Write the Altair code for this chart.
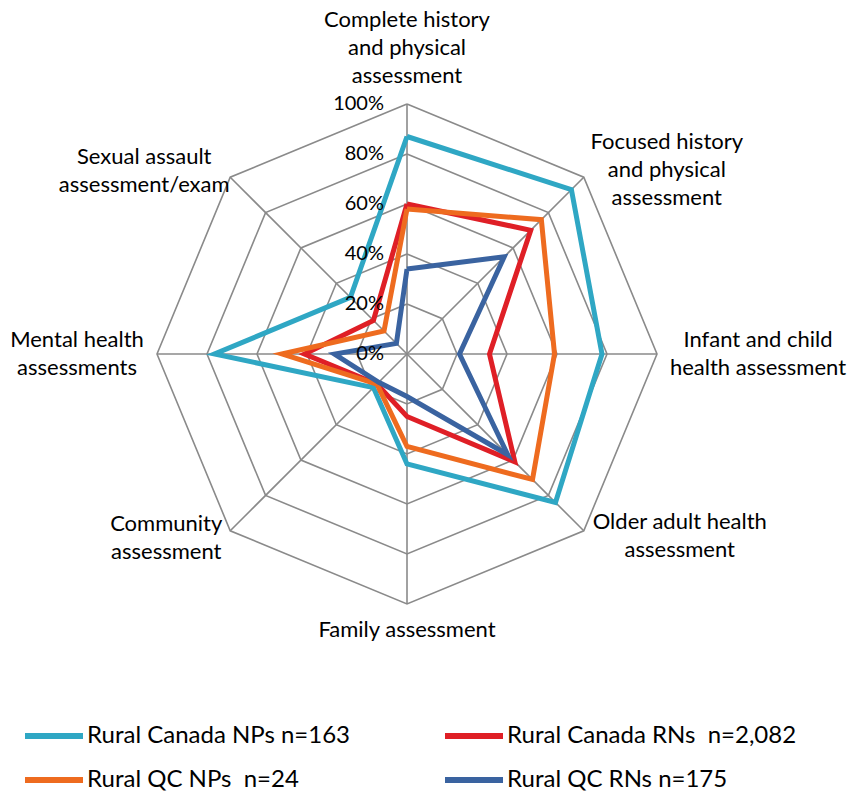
import altair as alt
import pandas as pd

# ---------------- data ----------------
categories = [
    "Complete history\nand physical\nassessment",
    "Focused history\nand physical\nassessment",
    "Infant and child\nhealth assessment",
    "Older adult health\nassessment",
    "Family assessment",
    "Community\nassessment",
    "Mental health\nassessments",
    "Sexual assault\nassessment/exam",
]
series_names = [
    "Rural Canada NPs n=163",
    "Rural Canada RNs\u00a0 n=2,082",
    "Rural QC NPs\u00a0 n=24",
    "Rural QC RNs n=175",
]
canada_nps = [0.87, 0.93, 0.78, 0.84, 0.44, 0.19, 0.77, 0.32]
canada_rns = [0.60, 0.70, 0.33, 0.61, 0.25, 0.17, 0.41, 0.19]
qc_nps = [0.58, 0.76, 0.59, 0.71, 0.37, 0.17, 0.50, 0.13]
qc_rns = [0.34, 0.55, 0.21, 0.57, 0.17, 0.16, 0.29, 0.06]
series_values = [canada_nps, canada_rns, qc_nps, qc_rns]
colors = ["#2FA7C4", "#DF1F26", "#EE6B1F", "#3A63A0"]

grid_levels = [0.2, 0.4, 0.6, 0.8, 1.0]
tick_levels = [0.0, 0.2, 0.4, 0.6, 0.8, 1.0]
tick_labels = ["0%", "20%", "40%", "60%", "80%", "100%"]

# ---------------- tables ----------------
n = len(categories)
line_rows = []
for name, vals in zip(series_names, series_values):
    for i in range(n + 1):
        line_rows.append({"series": name, "idx": i, "value": vals[i % n]})
lines_df = pd.DataFrame(line_rows)

ring_rows = [{"level": lv, "idx": i} for lv in grid_levels for i in range(n + 1)]
rings_df = pd.DataFrame(ring_rows)
spokes_df = pd.DataFrame({"idx": list(range(n))})
ticks_df = pd.DataFrame({"level": tick_levels, "label": tick_labels})
cat_df = pd.DataFrame({"idx": list(range(n)), "label": categories})

FONT = "Lato"
GRID = "#8A8A8A"

xs = alt.Scale(domain=[-407 / 250, 441 / 250], nice=False, zero=False)
ys = alt.Scale(domain=[-441 / 250, 354 / 250], nice=False, zero=False)

def X(f):
    return alt.X(f, type="quantitative", scale=xs, axis=None)

def Y(f):
    return alt.Y(f, type="quantitative", scale=ys, axis=None)

rings = alt.Chart(rings_df).transform_calculate(
    ang="datum.idx*PI/4",
    px="datum.level*sin(datum.ang)",
    py="datum.level*cos(datum.ang)",
).mark_line(color=GRID, strokeWidth=1.6).encode(
    x=X("px"), y=Y("py"), detail="level:N", order="idx:Q"
)

spokes = alt.Chart(spokes_df).transform_calculate(
    ang="datum.idx*PI/4",
    zero="0",
    ex="sin(datum.ang)",
    ey="cos(datum.ang)",
).mark_rule(color=GRID, strokeWidth=1.6).encode(
    x=X("zero"), y=Y("zero"), x2="ex:Q", y2="ey:Q"
)

color_enc = alt.Color(
    "series:N",
    scale=alt.Scale(domain=series_names, range=colors),
    title=None,
    legend=alt.Legend(
        orient="none",
        direction="horizontal",
        legendX=22,
        legendY=704,
        columns=2,
        symbolType="stroke",
        symbolSize=3364,
        symbolStrokeWidth=6,
        labelFont=FONT,
        labelFontSize=24,
        labelColor="#000000",
        labelLimit=500,
        labelOffset=1,
        columnPadding=82,
        rowPadding=-13,
    ),
)

series_layers = []
for name in series_names:
    series_layers.append(
        alt.Chart(lines_df).transform_filter(
            alt.datum.series == name
        ).transform_calculate(
            ang="datum.idx*PI/4",
            px="datum.value*sin(datum.ang)",
            py="datum.value*cos(datum.ang)",
        ).mark_line(strokeWidth=5, strokeJoin="miter").encode(
            x=X("px"), y=Y("py"), color=color_enc, order="idx:Q"
        )
    )

ticks = alt.Chart(ticks_df).transform_calculate(zero="0").mark_text(
    align="right", baseline="middle", dx=-23, font=FONT, fontSize=20, color="#000000"
).encode(x=X("zero"), y=Y("level"), text="label:N")

offsets = [
    (0, -84), (83, -35), (101, -14), (96, -9),
    (0, 26), (-64, -7), (-80, -14), (-86, -20),
]
label_layers = []
for i, (dx, dy) in enumerate(offsets):
    label_layers.append(
        alt.Chart(cat_df).transform_filter(alt.datum.idx == i).transform_calculate(
            ang="datum.idx*PI/4",
            px="sin(datum.ang)",
            py="cos(datum.ang)",
        ).mark_text(
            align="center", baseline="middle", dx=dx, dy=dy, lineBreak="\n",
            lineHeight=28, font=FONT, fontSize=22, color="#000000"
        ).encode(x=X("px"), y=Y("py"), text="label:N")
    )

chart = alt.layer(
    rings, spokes, *series_layers, ticks, *label_layers
).properties(
    width=848, height=795,
    autosize=alt.AutoSizeParams(type="none"),
    padding=0,
    background="white",
).configure_view(stroke=None)

chart.save("out.html", embed_options={"renderer": "svg", "actions": False})
